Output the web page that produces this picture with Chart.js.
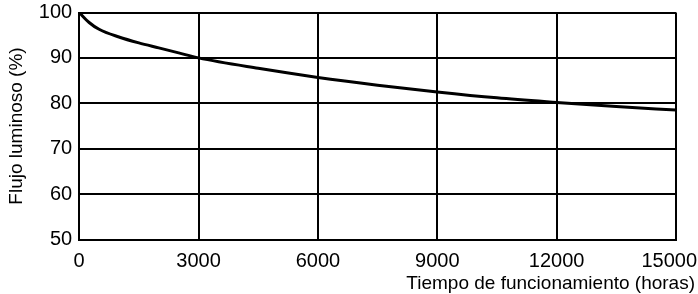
<!DOCTYPE html>
<html>
<head>
<meta charset="utf-8">
<script src="https://cdn.jsdelivr.net/npm/chart.js@4.4.1/dist/chart.umd.min.js"></script>
<style>
  html, body { margin: 0; padding: 0; background: #fff; }
  #wrap { width: 698px; height: 294px; position: relative; }
</style>
</head>
<body>
<div id="wrap"><canvas id="c" width="698" height="294"></canvas></div>
<script>
// Data
const hours = [0, 250, 500, 1000, 1500, 2000, 2500, 3000, 4500, 6000, 7500, 9000, 10500, 12000, 13500, 15000];
const flux  = [100, 97.8, 96.3, 94.6, 93.3, 92.2, 91.1, 90.0, 87.7, 85.7, 84.0, 82.5, 81.2, 80.2, 79.3, 78.5];
const xTicks = [0, 3000, 6000, 9000, 12000, 15000];
const yTicks = [50, 60, 70, 80, 90, 100];
const xTitle = 'Tiempo de funcionamiento (horas)';
const yTitle = 'Flujo luminoso (%)';

const FONT = '"Liberation Sans", Arial, Helvetica, sans-serif';

const points = hours.map((h, i) => ({ x: h, y: flux[i] }));

// draws x tick labels and x title, keeping them inside the canvas
const xLabelPlugin = {
  id: 'xLabels',
  afterDraw(chart) {
    const ctx = chart.ctx;
    const sx = chart.scales.x;
    const W = chart.width;
    ctx.save();
    ctx.fillStyle = '#000';
    ctx.font = '20px ' + FONT;
    ctx.textBaseline = 'alphabetic';
    ctx.textAlign = 'left';
    xTicks.forEach(v => {
      const s = String(v);
      const w = ctx.measureText(s).width;
      let x = sx.getPixelForValue(v) - w / 2;
      if (x + w > W - 1) x = W - 1 - w;
      ctx.fillText(s, x, chart.chartArea.bottom + 27);
    });
    ctx.font = '19px ' + FONT;
    ctx.textAlign = 'right';
    ctx.fillText(xTitle, W - 3, chart.chartArea.bottom + 49);
    ctx.restore();
  }
};

new Chart(document.getElementById('c'), {
  type: 'line',
  data: {
    datasets: [{
      data: points,
      borderColor: '#000',
      borderWidth: 3,
      pointRadius: 0,
      fill: false,
      cubicInterpolationMode: 'monotone'
    }]
  },
  options: {
    responsive: false,
    animation: false,
    devicePixelRatio: 1,
    layout: { padding: { left: 0, right: 22, top: 12.5, bottom: 54.5 } },
    plugins: { legend: { display: false }, tooltip: { enabled: false } },
    scales: {
      x: {
        type: 'linear',
        min: 0, max: 15000,
        afterBuildTicks: s => { s.ticks = xTicks.map(v => ({ value: v })); },
        afterFit: s => { s.paddingLeft = 0; s.paddingRight = 0; s.height = 0; },
        ticks: { display: false },
        grid: { color: '#000', lineWidth: 2, drawTicks: false },
        border: { color: '#000', width: 2 },
        title: { display: false }
      },
      y: {
        min: 50, max: 100,
        afterBuildTicks: s => { s.ticks = yTicks.map(v => ({ value: v })); },
        afterFit: s => { s.paddingTop = 0; s.paddingBottom = 0; },
        ticks: { color: '#000', font: { family: FONT, size: 20 }, padding: 7 },
        grid: { color: '#000', lineWidth: 2, drawTicks: false },
        border: { color: '#000', width: 2 },
        title: {
          display: true, text: yTitle, color: '#000',
          font: { family: FONT, size: 19 },
          padding: { top: 5, bottom: 4 }
        }
      }
    }
  },
  plugins: [xLabelPlugin]
});
</script>
</body>
</html>
